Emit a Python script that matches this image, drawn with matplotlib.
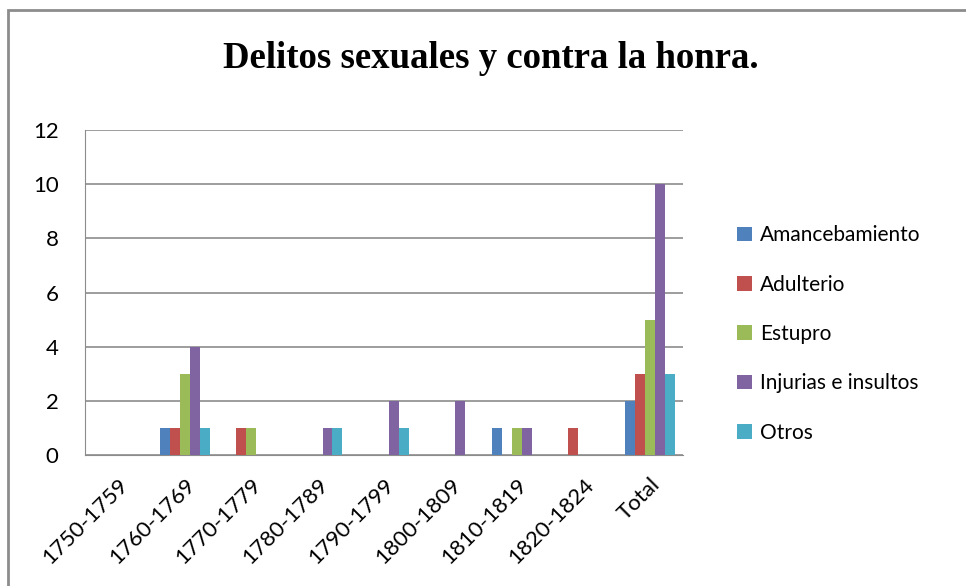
import numpy as np
import matplotlib.pyplot as plt
from matplotlib.patches import Rectangle

# data
periods = ["1750-1759", "1760-1769", "1770-1779", "1780-1789", "1790-1799",
           "1800-1809", "1810-1819", "1820-1824", "Total"]
amancebamiento = [0, 1, 0, 0, 0, 0, 1, 0, 2]
adulterio = [0, 1, 1, 0, 0, 0, 0, 1, 3]
estupro = [0, 3, 1, 0, 0, 0, 1, 0, 5]
injurias = [0, 4, 0, 1, 2, 2, 1, 0, 10]
otros = [0, 1, 0, 1, 1, 0, 0, 0, 3]

series_names = ["Amancebamiento", "Adulterio", "Estupro", "Injurias e insultos", "Otros"]
series_values = [amancebamiento, adulterio, estupro, injurias, otros]
colors = ["#4F81BD", "#C0504D", "#9BBB59", "#8064A2", "#4BACC6"]

plt.rcParams['font.family'] = ['Lato', 'DejaVu Sans']

fig = plt.figure(figsize=(9.66, 5.86), dpi=100)
ax = fig.add_axes([0.088, 0.2235, 0.619, 0.5546])

# outer chart border (only top/left visible in the crop)
fig.patches.append(Rectangle((8 / 966, -0.1), 1.2, 1 - 10 / 586 + 0.1,
                             transform=fig.transFigure, fill=False,
                             edgecolor="#8c8c8c", linewidth=2))

x = np.arange(len(periods))
bar_w = 0.15
for i, (name, vals, c) in enumerate(zip(series_names, series_values, colors)):
    ax.bar(x + (i - 2) * bar_w, vals, width=bar_w, color=c, label=name, zorder=3)

ax.set_xlim(-0.5, len(periods) - 0.5)
ax.set_ylim(0, 12)
ax.set_yticks(range(0, 13, 2))
ax.yaxis.grid(True, color="#8c8c8c", linewidth=1.2, zorder=0)
for s in ["top", "right"]:
    ax.spines[s].set_visible(False)
ax.spines["left"].set_color("#8c8c8c")
ax.spines["bottom"].set_color("#8c8c8c")
ax.tick_params(axis="both", length=0, labelsize=16)
ax.tick_params(axis="y", pad=19)
ax.tick_params(axis="x", pad=14)
ax.set_xticks(x)
ax.set_xticklabels(periods, rotation=45, ha="right", rotation_mode="anchor")

fig.text(0.508, 1 - 68 / 586, "Delitos sexuales y contra la honra.", ha="center", va="baseline",
         fontsize=26.5, fontweight="bold", family="Liberation Serif")

fig.legend(loc="center left", bbox_to_anchor=(0.744, 0.43), frameon=False,
           fontsize=15, handlelength=0.7, handleheight=0.7, handletextpad=0.4,
           labelspacing=1.41)

fig.savefig("out.png", dpi=100)
